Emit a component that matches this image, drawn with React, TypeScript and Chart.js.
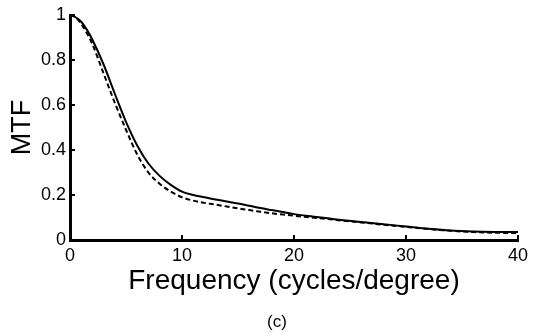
import React, { useEffect, useRef } from 'react';
import { Chart, registerables } from 'chart.js';
Chart.register(...registerables);

const frequency = [0, 0.5, 1, 1.5, 2, 3, 4, 5, 6, 7, 8, 9, 10, 11, 12, 13, 14, 15, 16, 17, 18, 19, 20, 22, 24, 26, 28, 30, 32, 34, 36, 38, 40];
const mtfSolid = [1.0, 0.99, 0.97, 0.935, 0.89, 0.78, 0.65, 0.525, 0.42, 0.34, 0.285, 0.245, 0.215, 0.2, 0.19, 0.18, 0.171, 0.162, 0.152, 0.142, 0.133, 0.124, 0.115, 0.102, 0.09, 0.08, 0.07, 0.06, 0.05, 0.042, 0.038, 0.036, 0.035];
const mtfDashed = [1.0, 0.99, 0.96, 0.92, 0.87, 0.74, 0.61, 0.49, 0.38, 0.3, 0.25, 0.215, 0.19, 0.175, 0.165, 0.157, 0.149, 0.141, 0.133, 0.126, 0.119, 0.113, 0.108, 0.098, 0.088, 0.078, 0.068, 0.058, 0.049, 0.041, 0.035, 0.032, 0.031];
const xTickValues = [0, 10, 20, 30, 40];
const yTickValues = [0, 0.2, 0.4, 0.6, 0.8, 1];
const yTickLabels = ['0', '0.2', '0.4', '0.6', '0.8', '1'];
const xTitle = 'Frequency (cycles/degree)';
const yTitle = 'MTF';
const caption = '(c)';

const FONT = '"Liberation Sans", Arial, Helvetica, sans-serif';

const inwardTicks = {
  id: 'inwardTicks',
  afterDatasetsDraw(chart: any) {
    const { ctx, chartArea, scales } = chart;
    ctx.save();
    ctx.strokeStyle = '#000';
    ctx.lineWidth = 2;
    ctx.beginPath();
    xTickValues.forEach((v) => {
      if (v === 0) return;
      const px = scales.x.getPixelForValue(v);
      ctx.moveTo(px, chartArea.bottom);
      ctx.lineTo(px, chartArea.bottom - 5);
    });
    yTickValues.forEach((v) => {
      if (v === 0) return;
      const py = scales.y.getPixelForValue(v);
      ctx.moveTo(chartArea.left, py);
      ctx.lineTo(chartArea.left + 5, py);
    });
    ctx.stroke();
    ctx.restore();
  },
  afterDraw(chart: any) {
    const { ctx, chartArea } = chart;
    ctx.save();
    ctx.fillStyle = '#000';
    ctx.font = `17px ${FONT}`;
    ctx.textAlign = 'center';
    ctx.textBaseline = 'middle';
    ctx.fillText(caption, (chartArea.left + chartArea.right) / 2 - 17, chart.height - 11);
    ctx.restore();
  },
};

export default function App() {
  const ref = useRef<HTMLCanvasElement | null>(null);
  useEffect(() => {
    if (!ref.current) return;
    const chart = new Chart(ref.current, {
      type: 'line',
      data: {
        datasets: [
          {
            label: 'solid',
            data: frequency.map((f, i) => ({ x: f, y: mtfSolid[i] })),
            borderColor: '#000',
            borderWidth: 2,
            pointRadius: 0,
            cubicInterpolationMode: 'monotone',
            fill: false,
          },
          {
            label: 'dashed',
            data: frequency.map((f, i) => ({ x: f, y: mtfDashed[i] })),
            borderColor: '#000',
            borderWidth: 2,
            borderDash: [5, 3],
            pointRadius: 0,
            cubicInterpolationMode: 'monotone',
            fill: false,
          },
        ],
      },
      options: {
        animation: false,
        responsive: false,
        layout: { padding: { left: 0, right: 18, top: 15, bottom: 0 } },
        plugins: { legend: { display: false }, tooltip: { enabled: false }, title: { display: false } },
        scales: {
          x: {
            type: 'linear',
            min: 0,
            max: 40,
            afterFit: (s: any) => { s.height = 93; },
            afterBuildTicks: (s: any) => { s.ticks = xTickValues.map((v) => ({ value: v })); },
            grid: { display: false, drawTicks: false },
            border: { display: true, color: '#000', width: 3 },
            ticks: { color: '#000', font: { family: FONT, size: 18 }, padding: 5, maxRotation: 0, callback: (v: any) => String(v) },
            title: {
              display: true,
              text: xTitle,
              color: '#000',
              font: { family: FONT, size: 28, lineHeight: 1 },
              padding: { top: 0, bottom: 38 },
            },
          },
          y: {
            type: 'linear',
            min: 0,
            max: 1,
            afterFit: (s: any) => { s.width = 70; },
            afterBuildTicks: (s: any) => { s.ticks = yTickValues.map((v) => ({ value: v })); },
            grid: { display: false, drawTicks: false },
            border: { display: true, color: '#000', width: 3 },
            ticks: {
              color: '#000',
              font: { family: FONT, size: 18 },
              padding: 4,
              callback: (v: any) => {
                const i = yTickValues.findIndex((t) => Math.abs(t - v) < 1e-9);
                return i >= 0 ? yTickLabels[i] : '';
              },
            },
            title: {
              display: true,
              text: yTitle,
              color: '#000',
              font: { family: FONT, size: 27, lineHeight: 1 },
              padding: { top: 9, bottom: 0 },
            },
          },
        },
      },
      plugins: [inwardTicks],
    } as any);
    return () => chart.destroy();
  }, []);
  return (
    <div style={{ position: 'absolute', left: 0, top: 0, width: 536, height: 333, background: '#fff' }}>
      <canvas ref={ref} width={536} height={333} />
    </div>
  );
}
